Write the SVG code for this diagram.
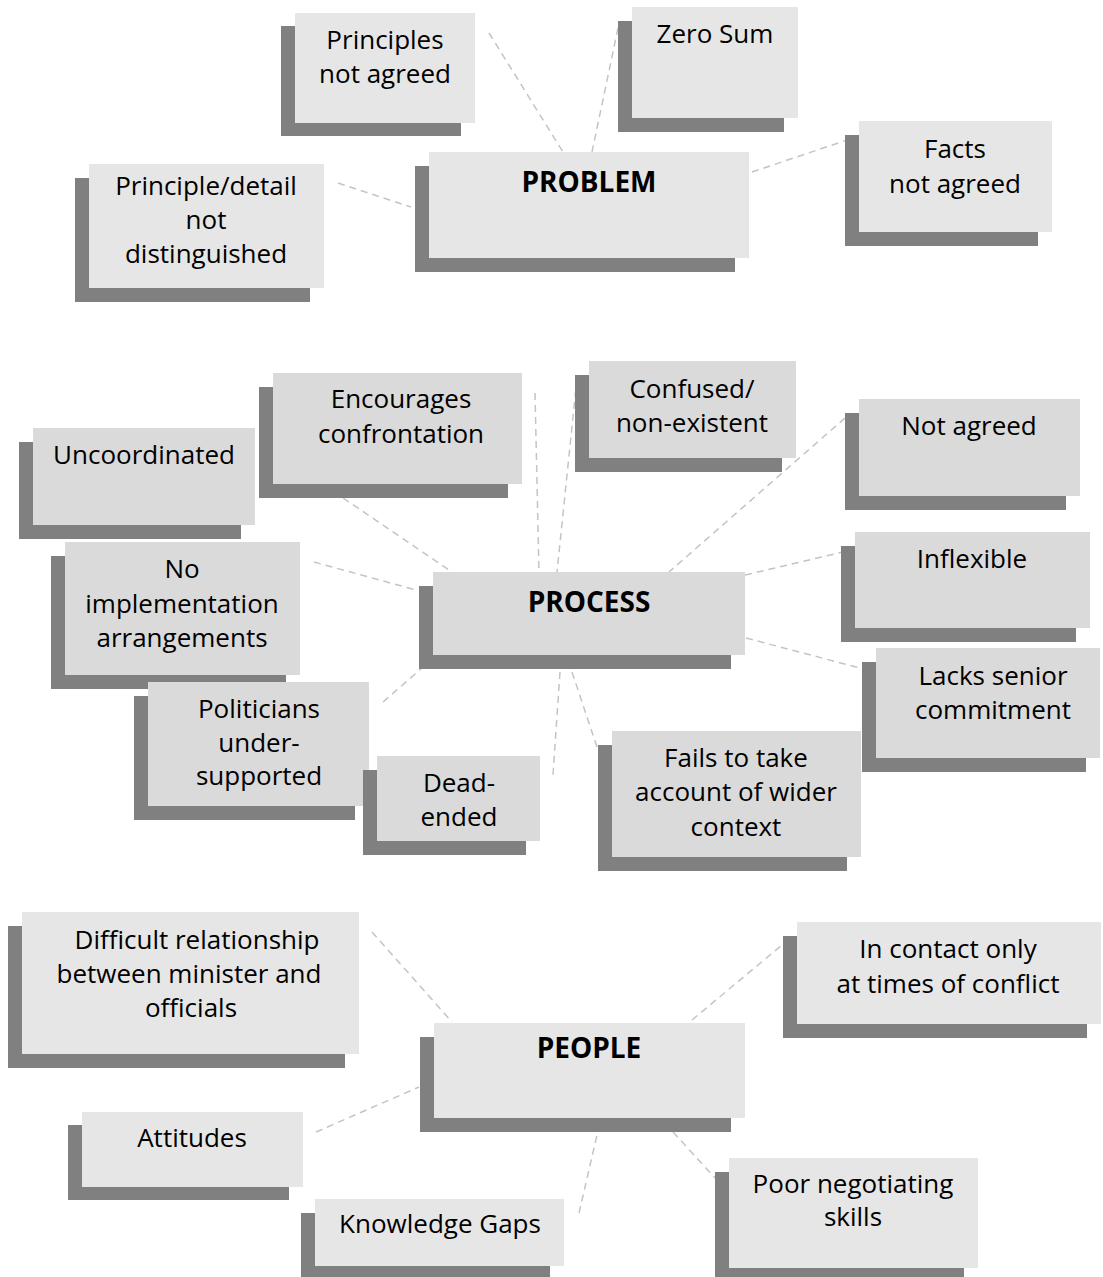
<svg xmlns="http://www.w3.org/2000/svg" width="1103" height="1277" viewBox="0 0 1103 1277">
<defs>
<style>
.sh{fill:#808080}
.fa{fill:#e6e6e6}
.fb{fill:#dadada}
text{font-family:"Open Sans","DejaVu Sans",sans-serif;font-size:26px;fill:#000;text-anchor:middle}
.t{font-weight:bold;font-size:28px}
.c line{stroke:#c4c4c4;stroke-width:1.5;stroke-dasharray:7 5;fill:none}
</style>
</defs>
<rect width="1103" height="1277" fill="#fff"/>
<g id="connectors" class="c">
<line x1="489" y1="33" x2="563" y2="152"/>
<line x1="618" y1="28" x2="592" y2="152"/>
<line x1="752" y1="172" x2="847" y2="140"/>
<line x1="338" y1="183" x2="411" y2="207"/>
<line x1="343" y1="498" x2="449" y2="570"/>
<line x1="314" y1="562" x2="416" y2="590"/>
<line x1="535" y1="393" x2="539" y2="572"/>
<line x1="577" y1="378" x2="557" y2="572"/>
<line x1="845" y1="418" x2="669" y2="572"/>
<line x1="745" y1="575" x2="843" y2="552"/>
<line x1="746" y1="638" x2="860" y2="668"/>
<line x1="383" y1="702" x2="421" y2="669"/>
<line x1="560" y1="672" x2="553" y2="775"/>
<line x1="572" y1="672" x2="598" y2="750"/>
<line x1="372" y1="932" x2="452" y2="1022"/>
<line x1="692" y1="1020" x2="782" y2="945"/>
<line x1="316" y1="1132" x2="419" y2="1087"/>
<line x1="579" y1="1213" x2="597" y2="1135"/>
<line x1="673" y1="1132" x2="715" y2="1178"/>
</g>
<g id="n-principles">
<rect class="sh" x="281" y="26" width="180" height="110"/>
<rect class="fa" x="295" y="13" width="180" height="110"/>
<text x="385" y="49">Principles</text>
<text x="385" y="83">not agreed</text>
</g>
<g id="n-zerosum">
<rect class="sh" x="618" y="21" width="166" height="111"/>
<rect class="fa" x="632" y="7" width="166" height="111"/>
<text x="715" y="43">Zero Sum</text>
</g>
<g id="n-facts">
<rect class="sh" x="845" y="135" width="193" height="111"/>
<rect class="fa" x="859" y="121" width="193" height="111"/>
<text x="955" y="158">Facts</text>
<text x="955" y="193">not agreed</text>
</g>
<g id="n-problem">
<rect class="sh" x="415" y="166" width="320" height="106"/>
<rect class="fa" x="429" y="152" width="320" height="106"/>
<text class="t" x="589" y="192">PROBLEM</text>
</g>
<g id="n-principle-detail">
<rect class="sh" x="75" y="178" width="235" height="124"/>
<rect class="fa" x="89" y="164" width="235" height="124"/>
<text x="206" y="195">Principle/detail</text>
<text x="206" y="229">not</text>
<text x="206" y="263">distinguished</text>
</g>
<g id="n-uncoordinated">
<rect class="sh" x="19" y="442" width="222" height="97"/>
<rect class="fb" x="33" y="428" width="222" height="97"/>
<text x="144" y="464">Uncoordinated</text>
</g>
<g id="n-encourages">
<rect class="sh" x="259" y="387" width="249" height="111"/>
<rect class="fb" x="273" y="373" width="249" height="111"/>
<text x="401" y="408">Encourages</text>
<text x="401" y="443">confrontation</text>
</g>
<g id="n-confused">
<rect class="sh" x="575" y="375" width="207" height="97"/>
<rect class="fb" x="589" y="361" width="207" height="97"/>
<text x="692" y="398">Confused/</text>
<text x="692" y="432">non-existent</text>
</g>
<g id="n-notagreed">
<rect class="sh" x="845" y="413" width="221" height="97"/>
<rect class="fb" x="859" y="399" width="221" height="97"/>
<text x="969" y="435">Not agreed</text>
</g>
<g id="n-noimpl">
<rect class="sh" x="51" y="556" width="235" height="133"/>
<rect class="fb" x="65" y="542" width="235" height="133"/>
<text x="182" y="578">No</text>
<text x="182" y="613">implementation</text>
<text x="182" y="647">arrangements</text>
</g>
<g id="n-process">
<rect class="sh" x="419" y="586" width="312" height="83"/>
<rect class="fb" x="433" y="572" width="312" height="83"/>
<text class="t" x="589" y="612">PROCESS</text>
</g>
<g id="n-inflexible">
<rect class="sh" x="841" y="546" width="235" height="96"/>
<rect class="fb" x="855" y="532" width="235" height="96"/>
<text x="972" y="568">Inflexible</text>
</g>
<g id="n-lacks">
<rect class="sh" x="862" y="662" width="224" height="110"/>
<rect class="fb" x="876" y="648" width="224" height="110"/>
<text x="993" y="685">Lacks senior</text>
<text x="993" y="719">commitment</text>
</g>
<g id="n-politicians">
<rect class="sh" x="134" y="696" width="221" height="124"/>
<rect class="fb" x="148" y="682" width="221" height="124"/>
<text x="259" y="718">Politicians</text>
<text x="259" y="752">under-</text>
<text x="259" y="785">supported</text>
</g>
<g id="n-deadended">
<rect class="sh" x="363" y="770" width="163" height="85"/>
<rect class="fb" x="377" y="756" width="163" height="85"/>
<text x="459" y="792">Dead-</text>
<text x="459" y="826">ended</text>
</g>
<g id="n-fails">
<rect class="sh" x="598" y="745" width="249" height="126"/>
<rect class="fb" x="612" y="731" width="249" height="126"/>
<text x="736" y="767">Fails to take</text>
<text x="736" y="801">account of wider</text>
<text x="736" y="836">context</text>
</g>
<g id="n-difficult">
<rect class="sh" x="8" y="926" width="337" height="142"/>
<rect class="fa" x="22" y="912" width="337" height="142"/>
<text x="197" y="949">Difficult relationship</text>
<text x="189" y="983">between minister and</text>
<text x="191" y="1017">officials</text>
</g>
<g id="n-incontact">
<rect class="sh" x="783" y="936" width="304" height="102"/>
<rect class="fa" x="797" y="922" width="304" height="102"/>
<text x="948" y="958">In contact only</text>
<text x="948" y="993">at times of conflict</text>
</g>
<g id="n-people">
<rect class="sh" x="420" y="1037" width="311" height="95"/>
<rect class="fa" x="434" y="1023" width="311" height="95"/>
<text class="t" x="589" y="1058">PEOPLE</text>
</g>
<g id="n-attitudes">
<rect class="sh" x="68" y="1125" width="221" height="75"/>
<rect class="fa" x="82" y="1112" width="221" height="75"/>
<text x="192" y="1147">Attitudes</text>
</g>
<g id="n-knowledge">
<rect class="sh" x="301" y="1213" width="249" height="67"/>
<rect class="fa" x="315" y="1199" width="249" height="67"/>
<text x="440" y="1233">Knowledge Gaps</text>
</g>
<g id="n-poor">
<rect class="sh" x="715" y="1172" width="249" height="110"/>
<rect class="fa" x="729" y="1158" width="249" height="110"/>
<text x="853" y="1193">Poor negotiating</text>
<text x="853" y="1226">skills</text>
</g>
</svg>
